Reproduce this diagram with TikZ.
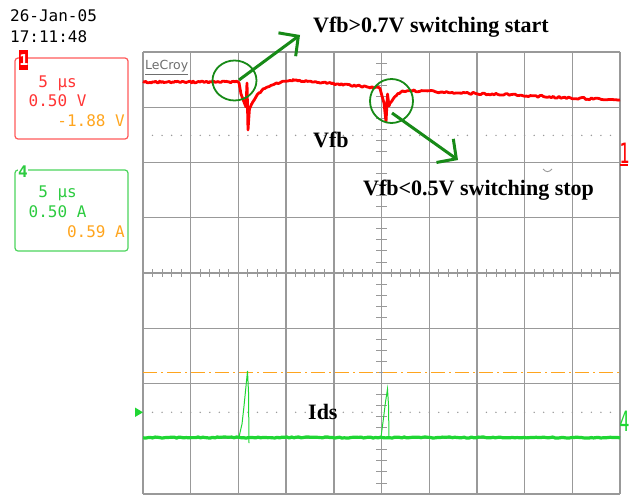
\documentclass[tikz,border=0pt]{standalone}
\usepackage{fontspec}
\setmainfont{Liberation Serif}
\setsansfont{DejaVu Sans}
\setmonofont{DejaVu Sans Mono}
\usetikzlibrary{arrows.meta}

\definecolor{gridgray}{HTML}{999999}
\definecolor{tracered}{HTML}{FF0000}
\definecolor{boxred}{HTML}{FF5A5A}
\definecolor{textred}{HTML}{FF3434}
\definecolor{tracegreen}{HTML}{1FD633}
\definecolor{boxgreen}{HTML}{4CD45C}
\definecolor{textgreen}{HTML}{2CCB40}
\definecolor{offorange}{HTML}{FFA51E}
\definecolor{markgreen}{HTML}{178A17}
\definecolor{logogray}{HTML}{6E6E6E}

\tikzset{
	gridline/.style={draw=gridgray, line width=1.4pt},
	minortick/.style={draw=gridgray, line width=0.9pt},
	redtrace/.style={draw=tracered, line width=2.8pt, line join=round},
	greentrace/.style={draw=tracegreen, line width=3.2pt, line join=round},
	spike/.style={draw=tracegreen, line width=1pt},
	ring/.style={draw=markgreen, line width=1.8pt},
	callout/.style={draw=markgreen, line width=3pt, -{Straight Barb[length=14pt,width=29pt]}},
	lbl/.style={font=\fontsize{22}{24}\selectfont\bfseries, inner sep=0pt},
	scr/.style={font=\fontsize{16}{18}\selectfont\ttfamily, inner sep=0pt},
	panel/.style={rounded corners=3pt, line width=1.2pt, minimum width=113pt, minimum height=81pt},
}

\begin{document}
\begin{tikzpicture}[x=1pt,y=-1pt]

	\useasboundingbox (0,0) rectangle (631,495);

	% screen grid
	\foreach \i in {0,...,10}
		\draw[gridline] ({143+47.7*\i},52) -- ({143+47.7*\i},494);
	\foreach \j in {0,...,8}
		\draw[gridline] (143,{52+55.25*\j}) -- (620,{52+55.25*\j});
	\foreach \k in {1,...,49}
		\draw[minortick] ({143+9.54*\k},269) -- ++(0,8);
	\foreach \k in {1,...,39}
		\draw[minortick] (376,{52+11.05*\k}) -- ++(11,0);
	\foreach \k in {1,...,49}{
		\fill[gridgray] ({143+9.54*\k},135.4) circle (0.8);
		\fill[gridgray] ({143+9.54*\k},412.3) circle (0.8);
	}
	\draw[gridgray, line width=0.9pt] (543,169) .. controls (546,172.5) and (549,172.5) .. (552,169);
	\node[font=\fontsize{12.5}{13}\selectfont\sffamily, text=logogray, inner sep=0pt, anchor=base west] (logo) at (145,70) {\underline{LeCroy}};

	% offset line and traces
	\draw[offorange, line width=1.2pt, dash pattern=on 14pt off 4pt on 2pt off 4pt] (143,372.3) -- (620,372.3);
	\pgfmathsetseed{42}
	\draw[redtrace] plot[domain=143:239,samples=70] (\x,{82+0.9*rand})
		-- (241,94) -- (244,102) -- (246,107) -- (247,83) -- (248,130) -- (249.5,108)
		-- plot[domain=250:293,samples=30] (\x,{80+27*exp(-(\x-250)/13)+0.9*rand})
		-- plot[domain=293:380,samples=55] (\x,{80+8*(\x-293)/87+0.9*rand})
		-- (382,96) -- (384,103) -- (386,122) -- (387.5,94) -- (389,106)
		-- plot[domain=390:412,samples=15] (\x,{90+14*exp(-(\x-390)/6)+0.9*rand})
		-- plot[domain=412:620,samples=110] (\x,{90.5+9.5*(\x-412)/208+1.1*rand});
	\draw[greentrace] plot[domain=143:620,samples=200] (\x,{437.5+0.6*rand});
	\draw[spike] (239,437) -- (242,424) -- (244,406) -- (246,386) -- (247.5,371) -- (248.5,392) -- (249,443);
	\draw[spike] (381,437) -- (383,422) -- (385.5,402) -- (387.5,389) -- (388.5,405) -- (389,437);

	% channel markers
	\fill[tracegreen] (135,407.5) -- (143,412.3) -- (135,417) -- cycle;
	\node[text=tracered, font=\fontsize{28}{28}\selectfont\ttfamily, inner sep=0pt] (oneright) at (624.5,153) {\scalebox{0.6}[1]{1}};
	\draw[tracered, line width=1.2pt] (620,165) -- (628,165);
	\node[text=tracegreen, font=\fontsize{28}{28}\selectfont\ttfamily, inner sep=0pt] (fourright) at (624.5,421) {\scalebox{0.6}[1]{4}};

	% callouts
	\coordinate (startpt) at (239,80);
	\coordinate (starttip) at (300,35);
	\coordinate (stoppt) at (392,113);
	\coordinate (stoptip) at (458,160);
	\draw[ring] (234.5,80.5) ellipse [x radius=22, y radius=20];
	\draw[ring] (391.5,101) ellipse [x radius=21.5, y radius=22];
	\draw[callout] (startpt) -- (starttip);
	\draw[callout] (stoppt) -- (stoptip);
	\node[lbl, anchor=base west] (startlbl) at (313,33) {Vfb>0.7V switching start};
	\node[lbl, anchor=base west] (stoplbl) at (363,195) {Vfb<0.5V switching stop};
	\node[lbl, anchor=base west] (vfblbl) at (313,147) {Vfb};
	\node[lbl, anchor=base west] (idslbl) at (308,419) {Ids};

	% side panel
	\node[scr, anchor=base west] (date) at (10,22) {26-Jan-05};
	\node[scr, anchor=base west] (time) at (10,42) {17:11:48};
	\node[panel, draw=boxred] (chonebox) at (71.5,98.5) {};
	\node[fill=tracered, text=white, font=\fontsize{15}{15}\selectfont\bfseries\ttfamily, minimum width=9pt, minimum height=20pt, inner sep=0pt] (chonetag) at (23.8,60) {1};
	\node[scr, text=textred, anchor=base west] (chonetime) at (28.5,87) {~5 μs};
	\node[scr, text=textred, anchor=base west] (chonevolt) at (28.5,106) {0.50 V};
	\node[scr, text=offorange, anchor=base east] (choneoff) at (125,126) {-1.88 V};
	\node[panel, draw=boxgreen] (chfourbox) at (71.5,210.5) {};
	\node[fill=white, text=textgreen, font=\fontsize{16}{16}\selectfont\bfseries\ttfamily, inner sep=0.5pt] (chfourtag) at (23,172) {4};
	\node[scr, text=textgreen, anchor=base west] (chfourtime) at (28.5,197) {~5 μs};
	\node[scr, text=textgreen, anchor=base west] (chfouramp) at (28.5,217) {0.50 A};
	\node[scr, text=offorange, anchor=base east] (chfouroff) at (125,237) {0.59 A};

\end{tikzpicture}
\end{document}
